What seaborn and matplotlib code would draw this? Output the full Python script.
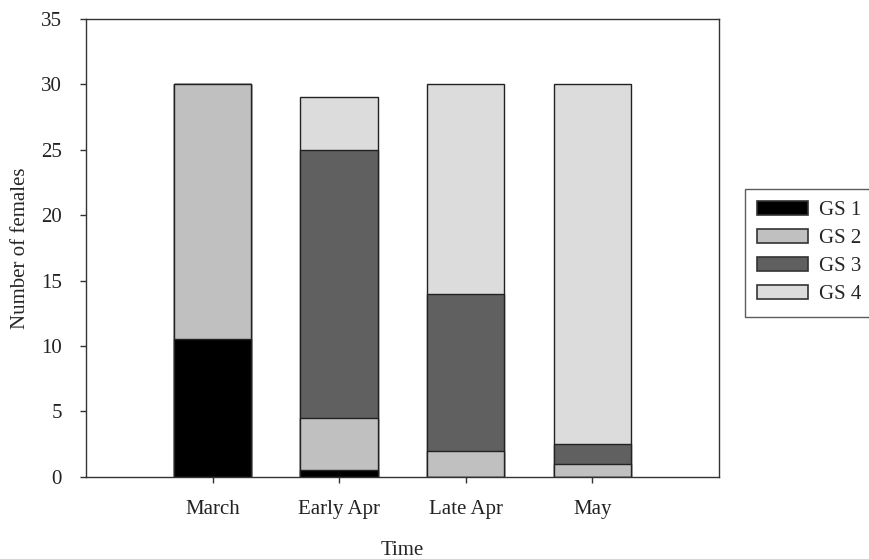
import matplotlib
matplotlib.use("Agg")
import matplotlib.pyplot as plt
import seaborn as sns
import numpy as np
import pandas as pd
from matplotlib.patches import Patch

categories = ["March", "Early Apr", "Late Apr", "May"]
gs1 = [10.5, 0.5, 0, 0]
gs2 = [19.5, 4, 2, 1]
gs3 = [0, 20.5, 12, 1.5]
gs4 = [0, 4, 16, 27.5]
series_names = ["GS 1", "GS 2", "GS 3", "GS 4"]
colors = ["#000000", "#c0c0c0", "#606060", "#dcdcdc"]

sns.set_theme(style="ticks")
plt.rcParams["font.family"] = ["Liberation Serif", "DejaVu Serif"]

fs = 15
fig = plt.figure(figsize=(8.69, 5.59), dpi=100)
ax = fig.add_axes([0.099, 0.147, 0.728, 0.819])

series = [gs1, gs2, gs3, gs4]
cum = np.cumsum(np.array(series), axis=0)
for i in range(3, -1, -1):
    df = pd.DataFrame({"Time": categories, "val": cum[i]})
    sns.barplot(data=df, x="Time", y="val", order=categories, color=colors[i],
                width=0.61, edgecolor="#222222", linewidth=1.0, saturation=1,
                ax=ax)
if ax.get_legend() is not None:
    ax.get_legend().remove()

ax.set_xlim(-1.0, 4.0)
ax.set_ylim(0, 35)
ax.set_yticks(range(0, 36, 5))
ax.set_xlabel("Time", fontsize=fs, labelpad=16)
ax.set_ylabel("Number of females", fontsize=fs, labelpad=8)
ax.tick_params(axis="both", labelsize=fs, direction="out", length=4.5, width=1,
               colors="#333333", labelcolor="#222222")
ax.tick_params(axis="x", pad=12)
ax.tick_params(axis="y", pad=13)
for s in ax.spines.values():
    s.set_visible(True)
    s.set_linewidth(1.0)
    s.set_color("#333333")

leg_handles = [Patch(facecolor=colors[i], edgecolor="#333333", linewidth=1.2) for i in range(4)]
leg = fig.legend(leg_handles, series_names, loc="upper left", bbox_to_anchor=(0.857, 0.662),
                 borderaxespad=0, fontsize=fs, frameon=True, fancybox=False, edgecolor="#333333",
                 handlelength=2.45, handleheight=0.6, borderpad=0.6, labelspacing=0.43,
                 handletextpad=0.5)
leg.get_frame().set_linewidth(1.0)

fig.savefig("out.png", dpi=100)
